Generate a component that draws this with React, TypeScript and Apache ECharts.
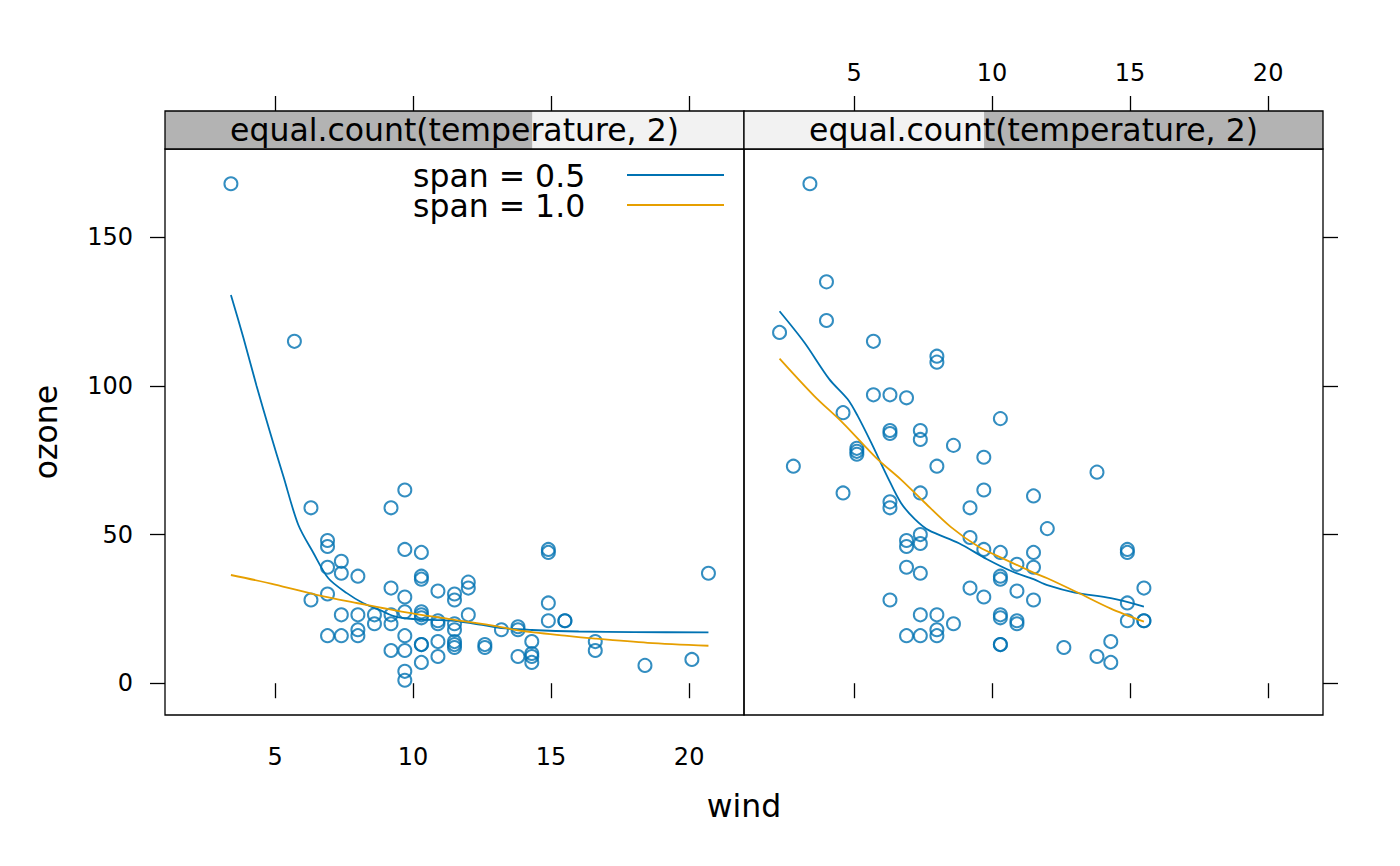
import React, { useEffect, useRef } from "react";
import * as echarts from "echarts";

// axis ticks and ranges (lattice pads the data range by 7%)
const windTicks = [5, 10, 15, 20];
const ozoneTicks = [0, 50, 100, 150];
const windRange = [1.012, 21.988];
const ozoneRange = [-10.69, 179.69];

// shingle: equal.count(temperature, 2)
const temperatureRange = [56.5, 97.5];
const temperatureLevels = [
    [56.5, 82.5],
    [73.5, 97.5],
];
const stripLabel = "equal.count(temperature, 2)";
const spanLabels = ["span = 0.5", "span = 1.0"];

// [wind, ozone] — lower temperature panel
const lowPoints: [number, number][] = [
    [3.4, 168], [5.7, 115], [6.3, 59], [6.3, 28], [6.9, 48], [6.9, 46], [6.9, 39],
    [6.9, 30], [6.9, 16], [7.4, 41], [7.4, 37], [7.4, 23], [7.4, 16], [8.0, 36],
    [8.0, 23], [8.0, 18], [8.0, 16], [8.6, 23], [8.6, 20], [9.2, 59], [9.2, 32],
    [9.2, 23], [9.2, 20], [9.2, 11], [9.7, 65], [9.7, 45], [9.7, 29], [9.7, 24],
    [9.7, 16], [9.7, 11], [9.7, 4], [9.7, 1], [10.3, 44], [10.3, 36], [10.3, 35],
    [10.3, 24], [10.3, 23], [10.3, 22], [10.3, 13], [10.3, 13], [10.3, 7], [10.9, 31],
    [10.9, 21], [10.9, 20], [10.9, 14], [10.9, 9], [11.5, 30], [11.5, 28], [11.5, 20],
    [11.5, 18], [11.5, 14], [11.5, 13], [11.5, 12], [12.0, 34], [12.0, 32], [12.0, 23],
    [12.6, 13], [12.6, 12], [13.2, 18], [13.8, 19], [13.8, 18], [13.8, 9], [14.3, 14],
    [14.3, 10], [14.3, 9], [14.3, 7], [14.9, 45], [14.9, 44], [14.9, 27], [14.9, 21],
    [15.5, 21], [15.5, 21], [16.6, 14], [16.6, 11], [18.4, 6], [20.1, 8], [20.7, 37],
];

// [wind, ozone] — higher temperature panel
const highPoints: [number, number][] = [
    [2.3, 118], [2.8, 73], [3.4, 168], [4.0, 135], [4.0, 122], [4.6, 91], [4.6, 64],
    [5.1, 79], [5.1, 78], [5.1, 77], [5.7, 115], [5.7, 97], [6.3, 97], [6.3, 85],
    [6.3, 84], [6.3, 61], [6.3, 59], [6.3, 28], [6.9, 96], [6.9, 48], [6.9, 46],
    [6.9, 39], [6.9, 16], [7.4, 85], [7.4, 82], [7.4, 64], [7.4, 50], [7.4, 47],
    [7.4, 37], [7.4, 23], [7.4, 16], [8.0, 110], [8.0, 108], [8.0, 73], [8.0, 23],
    [8.0, 18], [8.0, 16], [8.6, 80], [8.6, 20], [9.2, 59], [9.2, 49], [9.2, 32],
    [9.7, 76], [9.7, 65], [9.7, 45], [9.7, 29], [10.3, 89], [10.3, 44], [10.3, 36],
    [10.3, 35], [10.3, 23], [10.3, 22], [10.3, 13], [10.3, 13], [10.9, 40], [10.9, 31],
    [10.9, 21], [10.9, 20], [11.5, 63], [11.5, 44], [11.5, 39], [11.5, 28], [12.0, 52],
    [12.6, 12], [13.8, 71], [13.8, 9], [14.3, 14], [14.3, 7], [14.9, 45], [14.9, 44],
    [14.9, 27], [14.9, 21], [15.5, 32], [15.5, 21], [15.5, 21],
];

// loess fits
const lowSpan05: [number, number][] = [
    [3.4, 130.6], [3.85, 116.3], [4.33, 100], [4.82, 84.3], [5.3, 69.6], [5.84, 53.3],
    [6.39, 43.8], [6.93, 35.3], [7.6, 30.3], [8.2, 26.9], [8.8, 24.6], [9.3, 22.6],
    [10.0, 21.6], [11.0, 21.2], [11.5, 21.0], [12.5, 19.6], [13.2, 18.5], [14.3, 17.9],
    [16.0, 17.4], [18.0, 17.2], [20.7, 17.1],
];
const lowSpan10: [number, number][] = [
    [3.4, 36.4], [5.0, 33.2], [6.5, 29.7], [8.0, 26.9], [9.7, 23.9], [11.5, 21.3],
    [13.0, 19.2], [13.8, 17.8], [15.5, 16.0], [16.6, 15.0], [18.5, 13.6], [20.7, 12.6],
];
const highSpan05: [number, number][] = [
    [2.3, 125.1], [3.2, 114.6], [4.1, 102.3], [4.77, 95.5], [5.13, 89.9], [5.62, 80.9],
    [6.2, 69.6], [6.7, 60.6], [7.2, 55.2], [7.7, 51.5], [8.8, 47.1], [9.8, 41.8],
    [10.75, 37.5], [11.5, 35.0], [12.0, 33.0], [13.0, 30.5], [14.3, 28.6], [15.5, 25.8],
];
const highSpan10: [number, number][] = [
    [2.3, 109.2], [3.56, 96.6], [4.6, 87.5], [5.8, 75.8], [6.7, 68.5], [7.5, 61.3],
    [8.5, 52.6], [9.5, 46.0], [10.5, 41.5], [11.5, 37.2], [12.0, 35.3], [13.1, 30.5],
    [14.3, 25.1], [15.5, 20.7],
];

const FONT = "DejaVu Sans";
const BLUE = "#0072B2";
const ORANGE = "#E69F00";
const PANEL_LEFT = [165, 744];
const PANEL_TOP = 149;
const PANEL_W = 579;
const PANEL_H = 566;
const STRIP_H = 38;
const BIG = 31.5;
const SMALL = 24;

const App: React.FC = () => {
    const chartRef = useRef<HTMLDivElement>(null);

    useEffect(() => {
        if (!chartRef.current) return;
        const chart = echarts.init(chartRef.current, null, { renderer: "svg" });

        const xAxis = (gridIndex: number, position: string, labels: boolean) => ({
            type: "value",
            gridIndex,
            position,
            offset: position === "top" ? STRIP_H : 0,
            min: windRange[0],
            max: windRange[1],
            splitLine: { show: false },
            axisLine: { show: false },
            axisTick: {
                show: true,
                length: 15,
                customValues: windTicks,
                lineStyle: { color: "#000", width: 1.3 },
            },
            axisLabel: {
                show: labels,
                customValues: windTicks,
                margin: position === "top" ? 26 : 30,
                color: "#000",
                fontSize: SMALL,
                fontFamily: FONT,
            },
        });

        const yAxis = (gridIndex: number, position: string, labels: boolean) => ({
            type: "value",
            gridIndex,
            position,
            min: ozoneRange[0],
            max: ozoneRange[1],
            splitLine: { show: false },
            axisLine: { show: false },
            axisTick: {
                show: true,
                length: 15,
                customValues: ozoneTicks,
                lineStyle: { color: "#000", width: 1.3 },
            },
            axisLabel: {
                show: labels,
                customValues: ozoneTicks,
                margin: 32,
                color: "#000",
                fontSize: SMALL,
                fontFamily: FONT,
            },
            name: labels ? "ozone" : "",
            nameLocation: "middle",
            nameRotate: 90,
            nameGap: 103,
            nameTextStyle: { color: "#000", fontSize: BIG, fontFamily: FONT },
        });

        const points = (data: [number, number][], xi: number, yi: number) => ({
            type: "scatter",
            xAxisIndex: xi,
            yAxisIndex: yi,
            data,
            symbol: "circle",
            symbolSize: 13,
            itemStyle: { color: "rgba(0,0,0,0)", borderColor: BLUE, borderWidth: 2 },
        });

        const fit = (name: string, data: [number, number][], color: string, xi: number, yi: number) => ({
            type: "line",
            name,
            xAxisIndex: xi,
            yAxisIndex: yi,
            data,
            showSymbol: false,
            smooth: 0.3,
            lineStyle: { color, width: 1.8 },
            itemStyle: { color },
            z: 3,
        });

        // strips: light background, shaded shingle level, border, label
        const tSpan = temperatureRange[1] - temperatureRange[0];
        const strips = PANEL_LEFT.flatMap((left, i) => {
            const lv = temperatureLevels[i];
            const f0 = (lv[0] - temperatureRange[0]) / tSpan;
            const f1 = (lv[1] - temperatureRange[0]) / tSpan;
            const top = PANEL_TOP - STRIP_H;
            return [
                {
                    type: "rect",
                    shape: { x: left, y: top, width: PANEL_W, height: STRIP_H },
                    style: { fill: "#f2f2f2" },
                },
                {
                    type: "rect",
                    shape: { x: left + f0 * PANEL_W, y: top, width: (f1 - f0) * PANEL_W, height: STRIP_H },
                    style: { fill: "#b3b3b3" },
                },
                {
                    type: "rect",
                    shape: { x: left, y: top, width: PANEL_W, height: STRIP_H },
                    style: { fill: "none", stroke: "#000", lineWidth: 1.3 },
                },
                {
                    type: "text",
                    x: left + PANEL_W / 2,
                    y: top + STRIP_H / 2,
                    style: {
                        text: stripLabel,
                        fill: "#000",
                        font: `${BIG}px "${FONT}"`,
                        textAlign: "center",
                        textVerticalAlign: "middle",
                    },
                },
            ];
        });

        const legend = spanLabels.flatMap((label, i) => [
            {
                type: "text",
                x: 413,
                y: 176 + i * 30,
                style: {
                    text: label,
                    fill: "#000",
                    font: `${BIG}px "${FONT}"`,
                    textAlign: "left",
                    textVerticalAlign: "middle",
                },
            },
            {
                type: "line",
                shape: { x1: 627, y1: 175 + i * 30, x2: 724, y2: 175 + i * 30 },
                style: { stroke: i === 0 ? BLUE : ORANGE, lineWidth: 1.8 },
            },
        ]);

        chart.setOption({
            animation: false,
            backgroundColor: "#fff",
            grid: PANEL_LEFT.map((left) => ({
                left,
                top: PANEL_TOP,
                width: PANEL_W,
                height: PANEL_H,
                show: true,
                borderColor: "#000",
                borderWidth: 1.3,
                backgroundColor: "transparent",
            })),
            xAxis: [
                xAxis(0, "bottom", true),
                xAxis(0, "top", false),
                xAxis(1, "bottom", false),
                xAxis(1, "top", true),
            ],
            yAxis: [yAxis(0, "left", true), yAxis(1, "right", false)],
            graphic: [
                ...strips,
                ...legend,
                {
                    type: "text",
                    x: 744,
                    y: 806,
                    style: {
                        text: "wind",
                        fill: "#000",
                        font: `${BIG}px "${FONT}"`,
                        textAlign: "center",
                        textVerticalAlign: "middle",
                    },
                },
            ],
            series: [
                points(lowPoints, 0, 0),
                fit(spanLabels[0], lowSpan05, BLUE, 0, 0),
                fit(spanLabels[1], lowSpan10, ORANGE, 0, 0),
                points(highPoints, 2, 1),
                fit(spanLabels[0], highSpan05, BLUE, 2, 1),
                fit(spanLabels[1], highSpan10, ORANGE, 2, 1),
            ],
        });

        return () => {
            chart.dispose();
        };
    }, []);

    return (
        <div
            ref={chartRef}
            style={{ position: "absolute", left: 0, top: 0, width: "1400px", height: "866px" }}
        />
    );
};

export default App;
